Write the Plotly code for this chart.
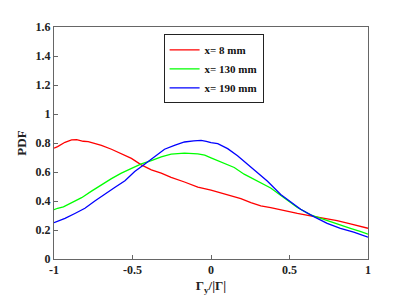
import plotly.graph_objects as go

x_red = [-1.0, -0.977, -0.93, -0.888, -0.856, -0.814, -0.782, -0.74, -0.698, -0.634, -0.571, -0.507, -0.444, -0.38, -0.317, -0.254, -0.169, -0.084, 0.0, 0.063, 0.106, 0.148, 0.19, 0.254, 0.317, 0.38, 0.465, 0.55, 0.634, 0.718, 0.803, 0.888, 0.95, 1.0]
y_red = [0.765, 0.775, 0.805, 0.822, 0.823, 0.812, 0.81, 0.798, 0.784, 0.757, 0.728, 0.694, 0.649, 0.615, 0.592, 0.563, 0.531, 0.495, 0.475, 0.455, 0.443, 0.425, 0.417, 0.389, 0.366, 0.355, 0.332, 0.314, 0.298, 0.283, 0.264, 0.242, 0.228, 0.212]

x_green = [-1.0, -0.977, -0.94, -0.888, -0.824, -0.761, -0.698, -0.634, -0.571, -0.507, -0.444, -0.38, -0.317, -0.254, -0.169, -0.084, -0.04, 0.0, 0.063, 0.148, 0.211, 0.296, 0.38, 0.465, 0.55, 0.634, 0.718, 0.803, 0.888, 0.95, 1.0]
y_green = [0.34, 0.35, 0.36, 0.389, 0.423, 0.468, 0.513, 0.554, 0.592, 0.626, 0.656, 0.678, 0.705, 0.723, 0.73, 0.725, 0.716, 0.698, 0.668, 0.631, 0.585, 0.536, 0.49, 0.423, 0.355, 0.305, 0.276, 0.242, 0.212, 0.19, 0.172]

x_blue = [-1.0, -0.977, -0.93, -0.867, -0.803, -0.74, -0.675, -0.611, -0.548, -0.486, -0.423, -0.36, -0.296, -0.233, -0.169, -0.11, -0.063, -0.03, 0.0, 0.043, 0.106, 0.169, 0.233, 0.296, 0.36, 0.444, 0.507, 0.571, 0.655, 0.74, 0.824, 0.909, 1.0]
y_blue = [0.25, 0.26, 0.28, 0.314, 0.35, 0.4, 0.445, 0.495, 0.54, 0.603, 0.653, 0.705, 0.757, 0.784, 0.807, 0.815, 0.818, 0.812, 0.802, 0.795, 0.761, 0.712, 0.653, 0.592, 0.536, 0.445, 0.393, 0.343, 0.292, 0.246, 0.212, 0.185, 0.15]

names = ["x= 8 mm", "x= 130 mm", "x= 190 mm"]
colors = ["#ff0000", "#00ff00", "#0000ff"]

x_ticks = [-1, -0.5, 0, 0.5, 1]
x_ticklabels = ["-1", "-0.5", "0", "0.5", "1"]
y_ticks = [0, 0.2, 0.4, 0.6, 0.8, 1.0, 1.2, 1.4, 1.6]
y_ticklabels = ["0", "0.2", "0.4", "0.6", "0.8", "1", "1.2", "1.4", "1.6"]

fig = go.Figure()
for xs, ys, n, c in zip([x_red, x_green, x_blue], [y_red, y_green, y_blue], names, colors):
    fig.add_trace(go.Scatter(x=xs, y=ys, mode="lines", name="<b>" + n + "</b>",
                             line=dict(color=c, width=1.3)))

font_family = "Liberation Serif, Times New Roman, serif"
tick_font = dict(family=font_family, size=12, color="#222222")
axis_common = dict(showgrid=False, zeroline=False, showline=True, linecolor="#666666",
                   linewidth=1, mirror=True, ticks="inside", ticklen=4,
                   tickcolor="#666666", tickfont=tick_font)

fig.update_layout(
    width=407, height=305,
    margin=dict(l=45, r=47, t=15, b=54),
    paper_bgcolor="white", plot_bgcolor="white",
    font=dict(family=font_family, size=12, color="#222222"),
    xaxis=dict(range=[-1, 1], tickvals=x_ticks,
               ticktext=["<b>" + t + "</b>" for t in x_ticklabels],
               title=dict(text="<b>Γ<sub>y</sub>/|Γ|</b>", standoff=4,
                          font=dict(family=font_family, size=13, color="#222222")),
               **axis_common),
    yaxis=dict(range=[0, 1.6], tickvals=y_ticks,
               ticktext=["<b>" + t + "</b>" for t in y_ticklabels],
               title=dict(text="<b>PDF</b>", standoff=6,
                          font=dict(family=font_family, size=13, color="#222222")),
               **axis_common),
    legend=dict(x=0.349, y=0.968, xanchor="left", yanchor="top",
                bgcolor="white", bordercolor="#222222", borderwidth=1,
                font=dict(family=font_family, size=11, color="#111111"),
                tracegroupgap=0, itemwidth=30),
    showlegend=True,
)

fig.write_html("out.html")
